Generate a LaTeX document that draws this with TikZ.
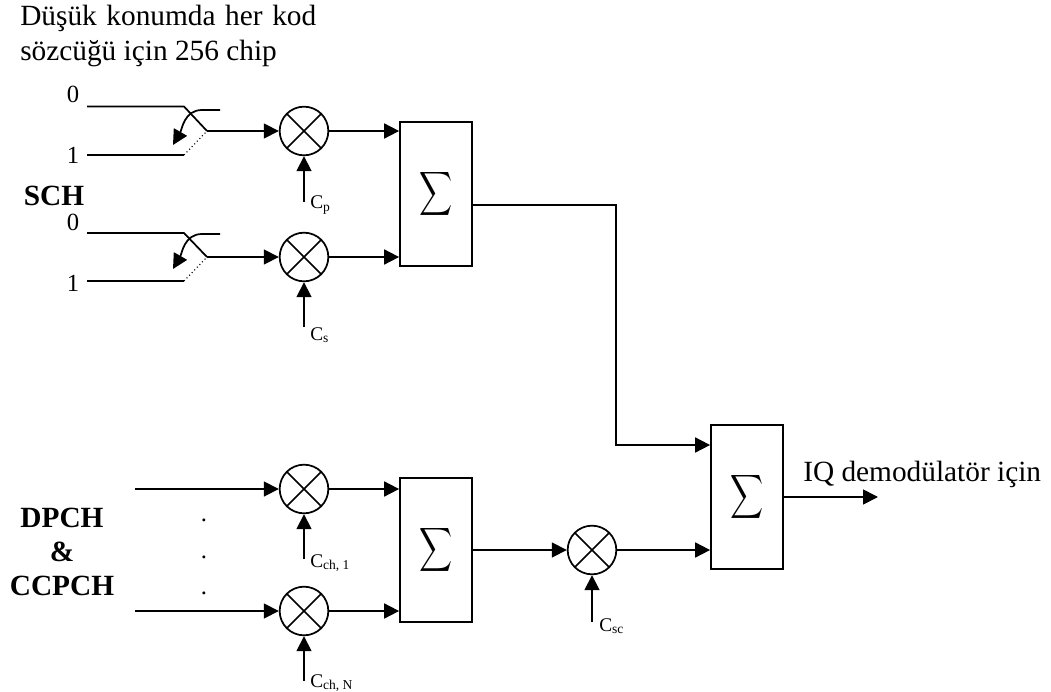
\documentclass[tikz,border=0pt]{standalone}
\usepackage{fontspec}
\usepackage{graphicx}
\setmainfont{Liberation Serif}
\usetikzlibrary{arrows.meta}
\newcommand{\sumsign}{\raisebox{-1.5pt}{\scalebox{1.72}[2.3]{$\displaystyle\sum$}}}
\tikzset{
	wire/.style={line width=1.3pt},
	arrowwire/.style={wire,-{Triangle[length=11.25pt,width=11.25pt]}},
	mixer/.style={circle,draw,line width=1.3pt,inner sep=0pt,minimum size=36.5pt,path picture={\draw[line width=1.3pt] (path picture bounding box.north west)--(path picture bounding box.south east) (path picture bounding box.north east)--(path picture bounding box.south west);}},
	sumbox/.style={rectangle,draw,line width=1.3pt,inner sep=0pt,minimum width=54pt,minimum height=108pt},
	txt/.style={font=\fontsize{22}{26}\selectfont,inner sep=0pt,anchor=base west},
	digit/.style={font=\fontsize{18.5}{22}\selectfont,inner sep=0pt},
	boldtxt/.style={font=\fontsize{22}{26}\selectfont\bfseries,inner sep=0pt,anchor=base},
	ctxt/.style={font=\fontsize{14.5}{17}\selectfont,inner sep=0pt,anchor=base west}
}
\begin{document}
\begin{tikzpicture}[x=0.75pt,y=-0.75pt]
	\useasboundingbox (0,0) rectangle (1051,692);
	\node[txt] (title1) at (20,26) {\makebox[222pt][s]{Düşük konumda her kod}};
	\node[txt] (title2) at (20,61) {sözcüğü için 256 chip};
	\node[digit] (zeroA) at (73,94) {0};
	\node[digit] (oneA) at (73,155) {1};
	\node[boldtxt] (sch) at (54,205) {SCH};
	\node[digit] (zeroB) at (73,222) {0};
	\node[digit] (oneB) at (73,283) {1};
	\node[boldtxt] (dpch) at (62,527) {DPCH};
	\node[boldtxt] (amp) at (62,561) {\&};
	\node[boldtxt] (ccpch) at (62,595) {CCPCH};
	\node[mixer] (mixA) at (304,131) {};
	\node[mixer] (mixB) at (304,257) {};
	\node[mixer] (mixC) at (304,489) {};
	\node[mixer] (mixD) at (304,611) {};
	\node[mixer] (mixE) at (592,550) {};
	\node[sumbox] (sumA) at (436,194) {\sumsign};
	\node[sumbox] (sumB) at (436,550) {\sumsign};
	\node[sumbox] (sumC) at (747,497) {\sumsign};
	\node[ctxt] (cp) at (310,209) {C\textsubscript{p}};
	\node[ctxt] (cs) at (310,340) {C\textsubscript{s}};
	\node[ctxt] (cchone) at (310,567) {C\textsubscript{ch, 1}};
	\node[ctxt] (cchn) at (310,687) {C\textsubscript{ch, N}};
	\node[ctxt] (csc) at (599,631) {C\textsubscript{sc}};
	\node[txt] (iq) at (803,481) {IQ demodülatör için};
	\node[boldtxt,font=\fontsize{18.5}{22}\selectfont] (dotA) at (204,521) {.};
	\node[boldtxt,font=\fontsize{18.5}{22}\selectfont] (dotB) at (204,558) {.};
	\node[boldtxt,font=\fontsize{18.5}{22}\selectfont] (dotC) at (204,594) {.};
	\coordinate (inA) at (87,106.5);
	\coordinate (kneeA) at (184,106.5);
	\coordinate (swA) at (207,131);
	\coordinate (inB) at (87,155);
	\coordinate (kneeB) at (184,155);
	\coordinate (inC) at (87,233);
	\coordinate (kneeC) at (184,233);
	\coordinate (swB) at (207,257);
	\coordinate (inD) at (87,281);
	\coordinate (kneeD) at (184,281);
	\coordinate (inE) at (135,489);
	\coordinate (inF) at (135,611);
	\coordinate (ctlA) at (304,202);
	\coordinate (ctlB) at (304,327);
	\coordinate (ctlC) at (304,559);
	\coordinate (ctlD) at (304,681);
	\coordinate (ctlE) at (592,622);
	\coordinate (turnA) at (616,205);
	\coordinate (turnB) at (616,445);
	\coordinate (outC) at (878,497);
	\coordinate (levA) at (220,110);
	\coordinate (levB) at (202,110);
	\coordinate (levC) at (173,145);
	\coordinate (levD) at (220,234);
	\coordinate (levE) at (202,234);
	\coordinate (levF) at (173,269);
	\draw[wire](inA)--(kneeA)--(swA);
	\draw[wire](inB)--(kneeB);
	\draw[dotted,line width=0.8pt](kneeB)--(swA);
	\draw[wire](inC)--(kneeC)--(swB);
	\draw[wire](inD)--(kneeD);
	\draw[dotted,line width=0.8pt](kneeD)--(swB);
	\draw[arrowwire](levA)--(levB) to[out=180,in=60] (levC);
	\draw[arrowwire](levD)--(levE) to[out=180,in=60] (levF);
	\draw[arrowwire](swA)--(mixA);
	\draw[arrowwire](swB)--(mixB);
	\draw[arrowwire](inE)--(mixC);
	\draw[arrowwire](inF)--(mixD);
	\draw[arrowwire](ctlA)--(mixA);
	\draw[arrowwire](ctlB)--(mixB);
	\draw[arrowwire](ctlC)--(mixC);
	\draw[arrowwire](ctlD)--(mixD);
	\draw[arrowwire](ctlE)--(mixE);
	\draw[arrowwire](mixA.east)--(mixA.east -| sumA.west);
	\draw[arrowwire](mixB.east)--(mixB.east -| sumA.west);
	\draw[arrowwire](mixC.east)--(mixC.east -| sumB.west);
	\draw[arrowwire](mixD.east)--(mixD.east -| sumB.west);
	\draw[arrowwire](mixE.west -| sumB.east)--(mixE.west);
	\draw[arrowwire](mixE.east)--(mixE.east -| sumC.west);
	\draw[arrowwire](turnA -| sumA.east)--(turnA)--(turnB)--(turnB -| sumC.west);
	\draw[arrowwire](sumC.east)--(outC);
\end{tikzpicture}
\end{document}
